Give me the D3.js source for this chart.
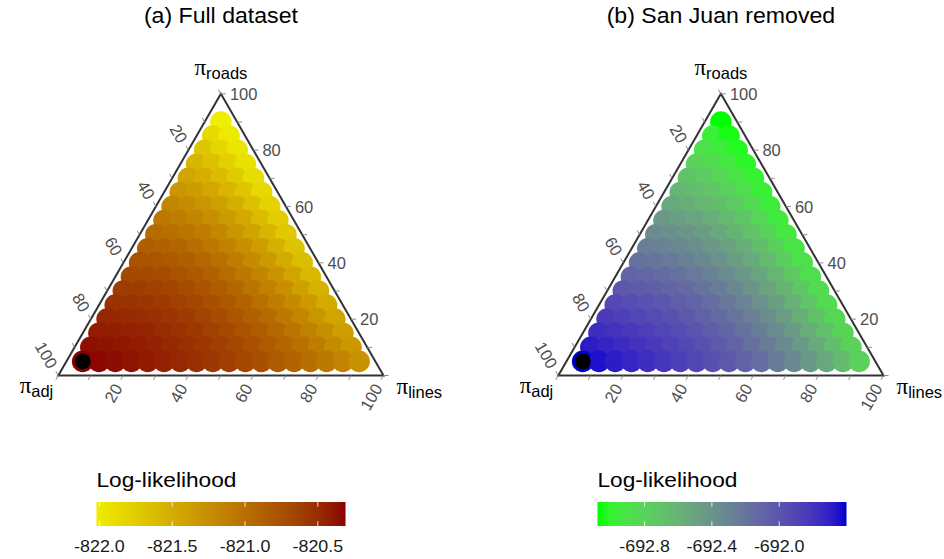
<!DOCTYPE html>
<html><head><meta charset="utf-8">
<script src="https://cdn.jsdelivr.net/npm/d3@7"></script>
<style>
body{margin:0;background:#fff;}
svg{display:block;}
text{font-family:"Liberation Sans",Arial,sans-serif;}
</style>
</head><body>
<svg id="chart" width="944" height="559"></svg>
<script>
// ---- data ----
// grid levels (percent) for pi_roads (rows) and pi_lines (columns); pi_adj = 100 - roads - lines
const roadsPct = [5,10,15,20,25,30,35,40,45,50,55,60,65,70,75,80,85,90];
const linesPct = [5,10,15,20,25,30,35,40,45,50,55,60,65,70,75,80,85,90];

// (a) Full dataset: log-likelihood, one row per roads level, columns by lines level
const fullRows = [
 [-820.310,-820.323,-820.342,-820.366,-820.395,-820.430,-820.470,-820.516,-820.567,-820.623,-820.685,-820.752,-820.825,-820.902,-820.986,-821.074,-821.168,-821.268],
 [-820.354,-820.364,-820.380,-820.404,-820.434,-820.471,-820.515,-820.565,-820.623,-820.687,-820.757,-820.835,-820.919,-821.011,-821.109,-821.213,-821.325],
 [-820.405,-820.413,-820.429,-820.453,-820.485,-820.526,-820.574,-820.631,-820.696,-820.770,-820.851,-820.941,-821.038,-821.144,-821.258,-821.380],
 [-820.463,-820.470,-820.487,-820.513,-820.549,-820.595,-820.650,-820.714,-820.789,-820.872,-820.966,-821.068,-821.181,-821.303,-821.434],
 [-820.528,-820.536,-820.555,-820.585,-820.626,-820.678,-820.740,-820.814,-820.899,-820.994,-821.101,-821.219,-821.347,-821.486],
 [-820.600,-820.610,-820.633,-820.668,-820.715,-820.775,-820.846,-820.931,-821.027,-821.136,-821.258,-821.391,-821.537],
 [-820.679,-820.693,-820.721,-820.762,-820.817,-820.885,-820.968,-821.064,-821.174,-821.298,-821.435,-821.586],
 [-820.766,-820.784,-820.818,-820.867,-820.931,-821.011,-821.105,-821.214,-821.339,-821.479,-821.634],
 [-820.859,-820.884,-820.926,-820.984,-821.058,-821.150,-821.257,-821.381,-821.522,-821.679],
 [-820.960,-820.993,-821.043,-821.112,-821.198,-821.303,-821.425,-821.566,-821.724],
 [-821.067,-821.109,-821.171,-821.251,-821.351,-821.470,-821.609,-821.766],
 [-821.182,-821.235,-821.308,-821.402,-821.516,-821.651,-821.807],
 [-821.304,-821.368,-821.455,-821.563,-821.694,-821.847],
 [-821.433,-821.511,-821.612,-821.737,-821.885],
 [-821.569,-821.662,-821.779,-821.921],
 [-821.712,-821.821,-821.956],
 [-821.863,-821.989],
 [-822.020]
];

// (b) San Juan removed
const sanJuanRows = [
 [-691.600,-691.641,-691.682,-691.723,-691.765,-691.810,-691.857,-691.907,-691.961,-692.021,-692.087,-692.160,-692.241,-692.329,-692.427,-692.535,-692.654,-692.784],
 [-691.681,-691.716,-691.753,-691.791,-691.831,-691.874,-691.922,-691.974,-692.032,-692.096,-692.168,-692.248,-692.338,-692.436,-692.545,-692.666,-692.799],
 [-691.762,-691.793,-691.826,-691.861,-691.900,-691.944,-691.993,-692.048,-692.111,-692.181,-692.260,-692.348,-692.447,-692.557,-692.679,-692.813],
 [-691.844,-691.871,-691.901,-691.936,-691.975,-692.021,-692.072,-692.132,-692.200,-692.277,-692.364,-692.462,-692.571,-692.693,-692.828],
 [-691.927,-691.951,-691.980,-692.014,-692.055,-692.103,-692.159,-692.223,-692.298,-692.382,-692.478,-692.587,-692.708,-692.843],
 [-692.011,-692.034,-692.062,-692.097,-692.140,-692.191,-692.252,-692.323,-692.405,-692.499,-692.605,-692.725,-692.859],
 [-692.095,-692.117,-692.145,-692.183,-692.230,-692.285,-692.352,-692.430,-692.521,-692.624,-692.742,-692.875],
 [-692.181,-692.203,-692.234,-692.274,-692.325,-692.386,-692.460,-692.547,-692.647,-692.762,-692.892],
 [-692.267,-692.290,-692.324,-692.368,-692.424,-692.493,-692.575,-692.671,-692.782,-692.909],
 [-692.354,-692.380,-692.417,-692.467,-692.530,-692.606,-692.697,-692.803,-692.926],
 [-692.442,-692.472,-692.514,-692.569,-692.640,-692.725,-692.826,-692.944],
 [-692.531,-692.565,-692.613,-692.675,-692.755,-692.850,-692.962],
 [-692.620,-692.659,-692.715,-692.786,-692.875,-692.981],
 [-692.711,-692.757,-692.821,-692.901,-693.000],
 [-692.802,-692.856,-692.929,-693.020],
 [-692.894,-692.957,-693.040],
 [-692.986,-693.059],
 [-693.080]
];

const axisTicks = [0,10,20,30,40,50,60,70,80,90,100];
const axisLabels = [20,40,60,80,100];
const fullBreaks = [-822.0,-821.5,-821.0,-820.5];
const sanJuanBreaks = [-692.8,-692.4,-692.0];
const panelTitles = ["(a) Full dataset","(b) San Juan removed"];

// ---- drawing ----
const svg = d3.select("#chart");
const panels = [
  {title: panelTitles[0], rows: fullRows, breaks: fullBreaks, low: "#eeee00", high: "#8b0000", dx: 0, ldx: 0, id: "gA"},
  {title: panelTitles[1], rows: sanJuanRows, breaks: sanJuanBreaks, low: "#00ff00", high: "#0000cd", dx: 500, ldx: 501, id: "gB"}
];

function label(g, x, y, s, o) {
  o = o || {};
  const t = g.append("text")
    .attr("transform", `translate(${x},${y}) scale(${o.sx || 1},1)` + (o.rot ? ` rotate(${o.rot})` : ""))
    .attr("font-size", o.size || 16)
    .attr("fill", o.fill || "#000")
    .attr("text-anchor", o.anchor || "start")
    .text(s);
  if (o.central) t.attr("dominant-baseline", "central");
  return t;
}

function greekLabel(g, x, y, sub, anchor) {
  const t = g.append("text").attr("x", x).attr("y", y).attr("text-anchor", anchor);
  t.append("tspan").attr("font-family", "'Liberation Serif','DejaVu Serif',serif").attr("font-size", 23).text("\u03c0");
  t.append("tspan").attr("font-size", 16.5).attr("dy", 4).text(sub);
}

panels.forEach(p => {
  const g = svg.append("g").attr("id", p.id);
  const xS = d3.scaleLinear().domain([0, 1]).range([58.3 + p.dx, 383.5 + p.dx]);
  const yS = d3.scaleLinear().domain([0, 1]).range([375.5, 375.5 - 0.8660254 * 325.2]);
  const proj = (adj, lines, roads) => [xS((lines + roads / 2) / 100), yS(roads / 100)];

  const pts = [];
  p.rows.forEach((row, i) => row.forEach((v, j) => {
    const roads = roadsPct[i], lines = linesPct[j];
    pts.push({roads, lines, adj: 100 - roads - lines, ll: v});
  }));
  const ext = d3.extent(pts, d => d.ll);
  const color = d3.scaleLinear().domain(ext).range([p.low, p.high]).interpolate(d3.interpolateLab);

  // points: upper rows first, lower rows drawn on top
  const ordered = pts.slice().sort((a, b) => d3.descending(a.roads, b.roads) || d3.ascending(a.lines, b.lines));
  g.append("g").selectAll("circle").data(ordered).join("circle")
    .attr("cx", d => proj(d.adj, d.lines, d.roads)[0])
    .attr("cy", d => proj(d.adj, d.lines, d.roads)[1])
    .attr("r", 10.8)
    .attr("fill", d => color(d.ll));

  // maximum-likelihood point
  const best = d3.greatest(pts, d => d.ll);
  const bp = proj(best.adj, best.lines, best.roads);
  g.append("circle").attr("cx", bp[0]).attr("cy", bp[1]).attr("r", 8).attr("fill", "#000");

  // triangle outline
  const T = proj(0, 0, 100), L = proj(100, 0, 0), R = proj(0, 100, 0);
  g.append("path").attr("d", d3.line()([L, R, T]) + "Z")
    .attr("fill", "none").attr("stroke", "#333").attr("stroke-width", 2).attr("stroke-linejoin", "miter");

  // axes: roads on right edge, adj on left edge, lines on bottom edge
  const axes = [
    {pos: v => proj(0, 100 - v, v), dir: [1, 0], rot: 0, anchor: "start", gap: 9},
    {pos: v => proj(v, 0, 100 - v), dir: [-0.5, -0.8660254], rot: 60, anchor: "end", gap: 10},
    {pos: v => proj(100 - v, v, 0), dir: [-0.5, 0.8660254], rot: -60, anchor: "end", gap: 11}
  ];
  axes.forEach(ax => {
    axisTicks.forEach(v => {
      const P = ax.pos(v);
      g.append("line").attr("x1", P[0]).attr("y1", P[1])
        .attr("x2", P[0] + ax.dir[0] * 5).attr("y2", P[1] + ax.dir[1] * 5)
        .attr("stroke", "#8c8c8c").attr("stroke-width", 1);
    });
    axisLabels.forEach(v => {
      const P = ax.pos(v);
      label(g, P[0] + ax.dir[0] * ax.gap, P[1] + ax.dir[1] * ax.gap, String(v),
        {size: 16.5, fill: "#4d4d4d", anchor: ax.anchor, rot: ax.rot, central: true});
    });
  });

  // vertex labels
  greekLabel(g, T[0], T[1] - 19, "roads", "middle");
  greekLabel(g, L[0] - 5, L[1] + 17, "adj", "end");
  greekLabel(g, R[0] + 13, R[1] + 18, "lines", "start");

  // title
  label(g, 220.9 + p.dx, 23, p.title, {size: 22, sx: 1.05, anchor: "middle"});

  // legend (colour bar)
  const lx0 = 96.5 + p.ldx, lw = 249, ly = 502, lh = 24;
  const lS = d3.scaleLinear().domain(ext).range([lx0, lx0 + lw]);
  const gid = "grad" + p.id;
  const grad = svg.append("defs").append("linearGradient").attr("id", gid)
    .attr("x1", "0%").attr("x2", "100%").attr("y1", "0%").attr("y2", "0%");
  d3.range(0, 1.0001, 0.05).forEach(f => {
    grad.append("stop").attr("offset", (f * 100) + "%").attr("stop-color", color(ext[0] + f * (ext[1] - ext[0])));
  });
  label(g, lx0, 487, "Log-likelihood", {size: 21, sx: 1.08});
  g.append("rect").attr("x", lx0).attr("y", ly).attr("width", lw).attr("height", lh).attr("fill", `url(#${gid})`);
  p.breaks.forEach(b => {
    const x = lS(b);
    g.append("line").attr("x1", x).attr("x2", x).attr("y1", ly).attr("y2", ly + lh / 5)
      .attr("stroke", "#fff").attr("stroke-width", 1).attr("opacity", 0.8);
    g.append("line").attr("x1", x).attr("x2", x).attr("y1", ly + lh - lh / 5).attr("y2", ly + lh)
      .attr("stroke", "#fff").attr("stroke-width", 1).attr("opacity", 0.8);
    label(g, x, 552, b.toFixed(1), {size: 17, sx: 1.05, anchor: "middle", fill: "#1a1a1a"});
  });
});
</script>
</body></html>
